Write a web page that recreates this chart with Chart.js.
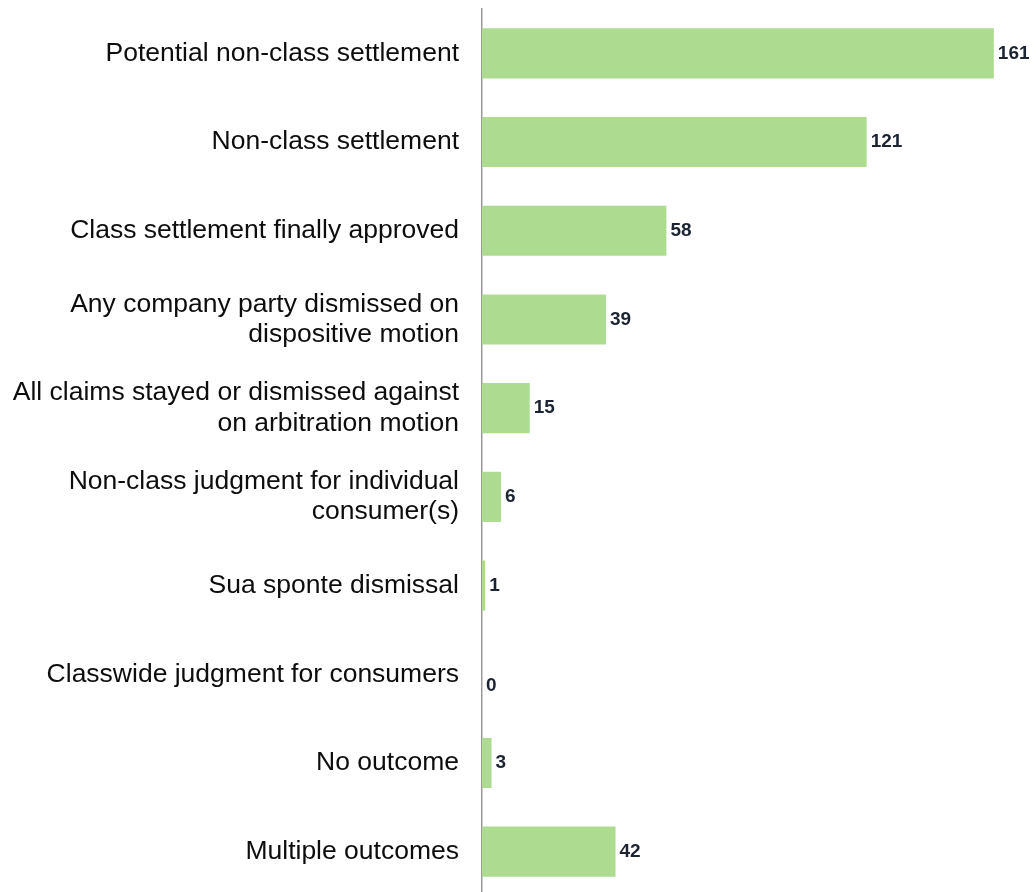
<!DOCTYPE html>
<html>
<head>
<meta charset="utf-8">
<script src="https://cdn.jsdelivr.net/npm/chart.js"></script>
<style>
  html, body { margin: 0; padding: 0; background: #fff; overflow: hidden; }
  #wrap { width: 1032px; height: 896px; position: relative; }
</style>
</head>
<body>
<div id="wrap"><canvas id="chart"></canvas></div>
<script>
// outcome categories (multi-line ones split the way the source wraps them)
const categories = [
    'Potential non-class settlement',
    'Non-class settlement',
    'Class settlement finally approved',
    ['Any company party dismissed on', 'dispositive motion'],
    ['All claims stayed or dismissed against', 'on arbitration motion'],
    ['Non-class judgment for individual', 'consumer(s)'],
    'Sua sponte dismissal',
    'Classwide judgment for consumers',
    'No outcome',
    'Multiple outcomes'
];
const counts = [161, 121, 58, 39, 15, 6, 1, 0, 3, 42];

// value labels at the end of each bar
const barLabels = {
    id: 'barLabels',
    afterDatasetsDraw(chart) {
        const ctx = chart.ctx;
        const meta = chart.getDatasetMeta(0);
        ctx.save();
        ctx.font = 'bold 19px "Liberation Sans", Arial, sans-serif';
        ctx.fillStyle = '#1b2430';
        ctx.textAlign = 'left';
        ctx.textBaseline = 'middle';
        meta.data.forEach((bar, i) => {
            const v = counts[i];
            const dy = v === 0 ? 12 : 0;
            ctx.fillText(String(v), bar.x + 4, bar.y + dy);
        });
        ctx.restore();
    }
};

new Chart(document.getElementById('chart'), {
    type: 'bar',
    data: {
        labels: categories,
        datasets: [{
            data: counts,
            backgroundColor: '#addc91',
            borderWidth: 0,
            barPercentage: 0.565,
            categoryPercentage: 1
        }]
    },
    options: {
        indexAxis: 'y',
        responsive: true,
        maintainAspectRatio: false,
        animation: false,
        layout: { padding: { top: 9, right: 0, bottom: 0, left: 0 } },
        plugins: {
            legend: { display: false },
            tooltip: { enabled: false }
        },
        scales: {
            x: {
                display: false,
                min: 0,
                max: 173
            },
            y: {
                afterFit(scale) {
                    scale.width = 482;
                    scale.paddingTop = 0;
                    scale.paddingBottom = 0;
                },
                grid: { display: false, drawTicks: false },
                border: { display: true, color: '#9a9a9a', width: 1.5 },
                ticks: {
                    padding: 23,
                    color: '#0d0d0d',
                    font: { family: '"Liberation Sans", Arial, sans-serif', size: 26.5, lineHeight: 1.15 }
                }
            }
        }
    },
    plugins: [barLabels]
});
</script>
</body>
</html>
